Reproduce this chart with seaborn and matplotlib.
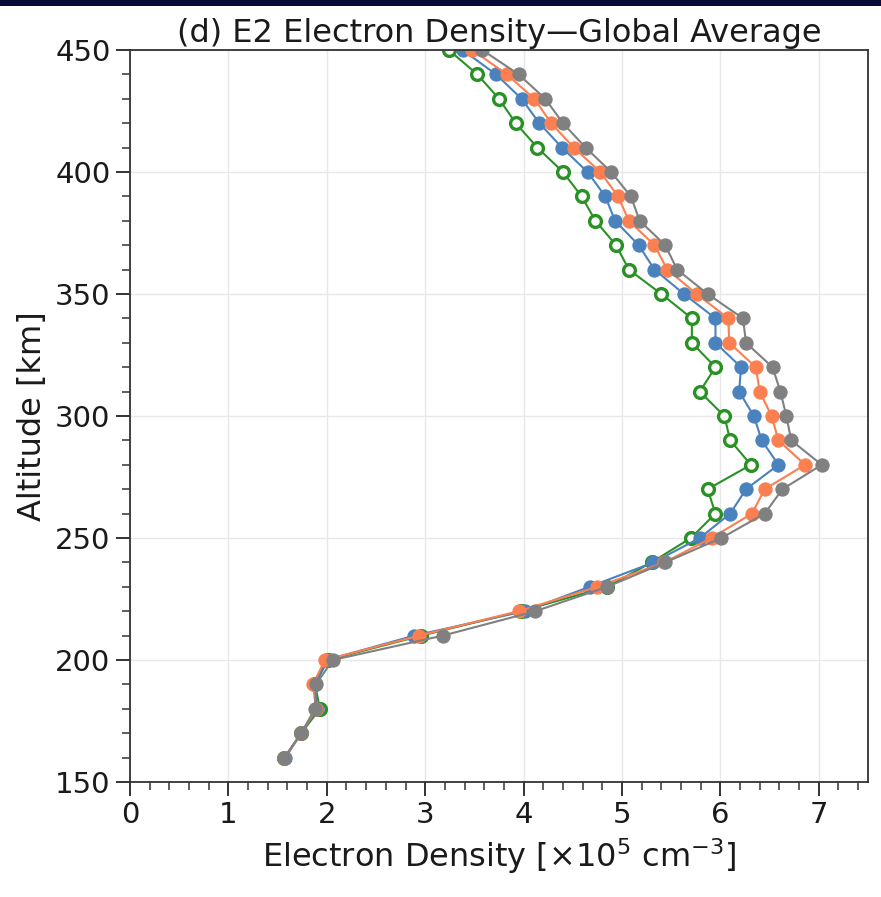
import numpy as np
import pandas as pd
import matplotlib
matplotlib.use("Agg")
import matplotlib.pyplot as plt
import seaborn as sns
from matplotlib.ticker import MultipleLocator
from matplotlib.patches import Rectangle

altitude = [160, 170, 180, 190, 200, 210, 220, 230, 240, 250,
            260, 270, 280, 290, 300, 310, 320, 330, 340, 350,
            360, 370, 380, 390, 400, 410, 420, 430, 440, 450]

green = [1.57, 1.74, 1.93, 1.88, 2.01, 2.96, 3.97, 4.85, 5.30, 5.70,
         5.95, 5.87, 6.31, 6.10, 6.04, 5.79, 5.95, 5.71, 5.71, 5.40,
         5.07, 4.94, 4.73, 4.59, 4.40, 4.14, 3.92, 3.75, 3.53, 3.24]
blue = [1.58, 1.74, 1.90, 1.88, 2.00, 2.89, 4.01, 4.67, 5.32, 5.79,
        6.10, 6.26, 6.59, 6.42, 6.34, 6.19, 6.21, 5.95, 5.95, 5.63,
        5.33, 5.17, 4.93, 4.83, 4.65, 4.39, 4.16, 3.98, 3.72, 3.38]
orange = [1.57, 1.74, 1.89, 1.86, 1.98, 2.94, 3.95, 4.75, 5.43, 5.91,
          6.32, 6.45, 6.86, 6.59, 6.52, 6.40, 6.36, 6.09, 6.08, 5.76,
          5.46, 5.33, 5.07, 4.96, 4.78, 4.51, 4.28, 4.11, 3.83, 3.48]
gray = [1.57, 1.74, 1.88, 1.89, 2.06, 3.18, 4.12, 4.85, 5.44, 6.01,
        6.45, 6.63, 7.03, 6.72, 6.67, 6.61, 6.53, 6.26, 6.23, 5.87,
        5.56, 5.44, 5.18, 5.09, 4.89, 4.63, 4.40, 4.22, 3.95, 3.58]

series_names = ["green", "blue", "orange", "gray"]
series_values = [green, blue, orange, gray]
colors = {"green": "#2a9125", "blue": "#4a82bd", "orange": "#fb7f50", "gray": "#808080"}

df = pd.concat([pd.DataFrame({"alt": altitude, "dens": v, "series": n})
                for n, v in zip(series_names, series_values)], ignore_index=True)

sns.set_theme(style="white")
plt.rcParams['font.family'] = ['DejaVu Sans']

fig = plt.figure(figsize=(8.81, 8.97), dpi=100)
ax = fig.add_axes([130/881, 1-782/897, (868-130)/881, (782-50)/897])

for n in series_names:
    sub = df[df["series"] == n]
    if n == "green":
        sns.lineplot(data=sub, x="dens", y="alt", orient="y", ax=ax, color=colors[n],
                     marker="o", markersize=8.5, markerfacecolor="white",
                     markeredgecolor=colors[n], markeredgewidth=2.4, linewidth=1.5,
                     sort=False)
    else:
        sns.lineplot(data=sub, x="dens", y="alt", orient="y", ax=ax, color=colors[n],
                     marker="o", markersize=9.5, markeredgecolor=colors[n],
                     markeredgewidth=0.8, linewidth=1.5, sort=False)

ax.set_xlim(0, 7.5)
ax.set_ylim(150, 450)
ax.xaxis.set_major_locator(MultipleLocator(1))
ax.xaxis.set_minor_locator(MultipleLocator(0.2))
ax.yaxis.set_major_locator(MultipleLocator(50))
ax.yaxis.set_minor_locator(MultipleLocator(10))
ax.grid(True, which="major", color="#e8e8e8", linewidth=1.0)
ax.set_axisbelow(True)
for s in ax.spines.values():
    s.set_color("#333333")
    s.set_linewidth(1.3)
ax.tick_params(which="major", direction="out", length=10, width=1.4, color="#333333",
               labelsize=21, bottom=True, left=True, pad=4, labelcolor="#1a1a1a")
ax.tick_params(which="minor", direction="out", length=6, width=1.1, color="#333333",
               bottom=True, left=True)
ax.set_xlabel("Electron Density [$\\times$10$^5$ cm$^{-3}$]", fontsize=23, labelpad=5,
              color="#1a1a1a")
ax.set_ylabel("Altitude [km]", fontsize=23, labelpad=5, color="#1a1a1a")
ax.set_title("(d) E2 Electron Density\u2014Global Average", fontsize=23, pad=6,
             color="#1a1a1a")

fig.patches.append(Rectangle((0, 1-6/897), 1, 6/897, transform=fig.transFigure,
                             facecolor="#0a0a3a", edgecolor="none"))

fig.savefig("out.png", dpi=100)
